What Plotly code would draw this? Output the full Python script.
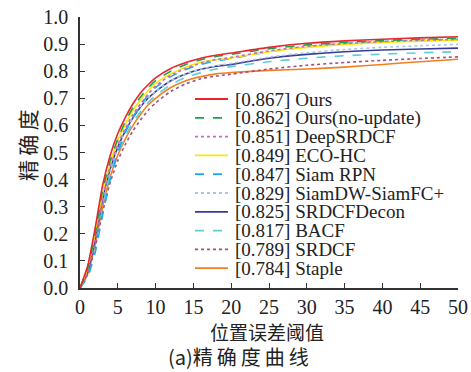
import plotly.graph_objects as go

thresholds = [0, 1, 2, 3, 4, 5, 6, 7, 8, 9, 10, 12, 14, 16, 18, 20, 25, 30, 35, 40, 45, 50]

ours        = [0, .08, .22, .38, .49, .57, .63, .68, .72, .75, .775, .81, .832, .848, .859, .867, .888, .903, .912, .918, .923, .927]
ours_noupd  = [0, .07, .20, .36, .47, .55, .615, .665, .705, .738, .765, .80, .825, .842, .854, .862, .883, .897, .906, .913, .918, .922]
deepsrdcf   = [0, .06, .18, .33, .45, .53, .59, .64, .68, .715, .745, .785, .81, .83, .843, .851, .875, .892, .902, .909, .914, .917]
eco_hc      = [0, .07, .20, .35, .46, .545, .605, .655, .695, .728, .755, .79, .815, .833, .842, .849, .872, .888, .899, .906, .911, .914]
siam_rpn    = [0, .04, .13, .27, .40, .50, .575, .63, .675, .71, .74, .78, .806, .825, .838, .847, .872, .89, .902, .909, .914, .918]
siamdw      = [0, .07, .19, .33, .44, .52, .58, .63, .67, .70, .725, .765, .79, .808, .82, .829, .852, .868, .88, .888, .894, .899]
srdcfdecon  = [0, .06, .18, .33, .44, .52, .58, .628, .668, .70, .725, .765, .79, .807, .818, .825, .848, .862, .872, .878, .882, .885]
bacf        = [0, .06, .17, .31, .42, .50, .56, .61, .65, .683, .71, .75, .777, .795, .808, .817, .835, .848, .857, .863, .868, .872]
srdcf       = [0, .05, .15, .28, .39, .47, .53, .58, .62, .655, .683, .725, .753, .772, .782, .789, .808, .822, .832, .84, .847, .853]
staple      = [0, .05, .16, .30, .41, .49, .55, .60, .64, .675, .70, .74, .765, .78, .79, .795, .803, .808, .815, .825, .835, .844]

names = ["[0.867] Ours", "[0.862] Ours(no-update)", "[0.851] DeepSRDCF", "[0.849] ECO-HC",
         "[0.847] Siam RPN", "[0.829] SiamDW-SiamFC+", "[0.825] SRDCFDecon", "[0.817] BACF",
         "[0.789] SRDCF", "[0.784] Staple"]
series = [ours, ours_noupd, deepsrdcf, eco_hc, siam_rpn, siamdw, srdcfdecon, bacf, srdcf, staple]
colors = ["#e8262b", "#1fa050", "#c070b8", "#ffe600", "#1aaaf0", "#a8c8e0", "#3a3a98", "#5ccfd8", "#a05080", "#f47f20"]
dashes = ["solid", "dash", "dot", "solid", "dash", "dot", "solid", "dash", "dot", "solid"]

serif = "Liberation Serif, Times New Roman, serif"
cjk = "Noto Sans CJK SC"

# plot area geometry (pixels) used for placing the hand-built legend
L, R, T, B = 80, 13, 17, 84
W, H = 471, 372
pw, ph = W - L - R, H - T - B

fig = go.Figure()
for i in reversed(range(len(series))):
    fig.add_trace(go.Scatter(x=thresholds, y=series[i], mode="lines", name=names[i], showlegend=False,
                             line=dict(color=colors[i], dash=dashes[i], width=1.6, shape="spline", smoothing=0.6)))

shapes = []
annotations = []
leg_x0, leg_x1, leg_tx = 195, 228, 233
for i, nm in enumerate(names):
    ypx = 99 + 18.8 * i
    yp = (H - B - ypx) / ph
    shapes.append(dict(type="line", xref="paper", yref="paper",
                       x0=(leg_x0 - L) / pw, x1=(leg_x1 - L) / pw, y0=yp, y1=yp,
                       line=dict(color=colors[i], dash=dashes[i], width=1.8)))
    annotations.append(dict(text=nm, xref="paper", yref="paper", x=(leg_tx - L) / pw, y=yp,
                            xanchor="left", yanchor="middle", showarrow=False,
                            font=dict(family=serif, size=19, color="#222")))

annotations.append(dict(text="位置误差阈值", xref="paper", yref="paper", x=(267 - L) / pw, y=(H - B - 331) / ph,
                        xanchor="center", yanchor="middle", showarrow=False,
                        font=dict(family=cjk, size=19, color="#222")))
annotations.append(dict(text="精\u2009确\u2009度", xref="paper", yref="paper", x=(27 - L) / pw, y=(H - B - 146) / ph,
                        xanchor="center", yanchor="middle", showarrow=False, textangle=-90,
                        font=dict(family=cjk, size=21, color="#222")))
annotations.append(dict(text="(a)精\u2009确\u2009度\u2009曲\u2009线", xref="paper", yref="paper",
                        x=(238 - L) / pw, y=(H - B - 356) / ph,
                        xanchor="center", yanchor="middle", showarrow=False,
                        font=dict(family=cjk, size=20, color="#222")))

fig.update_layout(
    width=W, height=H,
    margin=dict(l=L, r=R, t=T, b=B, autoexpand=False),
    plot_bgcolor="white", paper_bgcolor="white",
    showlegend=False,
    shapes=shapes,
    annotations=annotations,
    xaxis=dict(range=[0, 50], tickvals=[0, 5, 10, 15, 20, 25, 30, 35, 40, 45, 50],
               ticks="inside", ticklen=5, tickwidth=1.3, tickcolor="#333", automargin=False,
               showline=True, linecolor="#333", linewidth=1.5, showgrid=False, zeroline=False,
               tickfont=dict(family=serif, size=20, color="#222"), ticklabelstandoff=0),
    yaxis=dict(range=[0, 1.0], tickvals=[i / 10 for i in range(11)], tickformat=".1f",
               ticks="inside", ticklen=5, tickwidth=1.3, tickcolor="#333", automargin=False,
               showline=True, linecolor="#333", linewidth=1.5, showgrid=False, zeroline=False,
               tickfont=dict(family=serif, size=20, color="#222"), ticklabelstandoff=6),
)

fig.write_html("out.html", config={"displayModeBar": False},
               post_script="document.body.style.margin='0';document.body.style.overflow='hidden';")
